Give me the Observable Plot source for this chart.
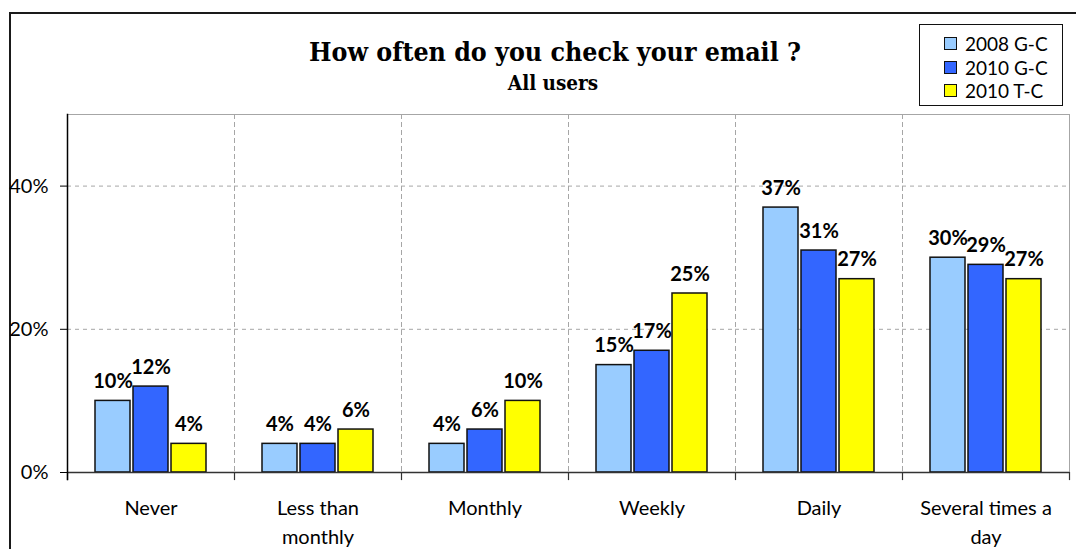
<!DOCTYPE html>
<html>
<head>
<meta charset="utf-8">
<script src="https://cdn.jsdelivr.net/npm/d3@7"></script>
<script src="https://cdn.jsdelivr.net/npm/@observablehq/plot@0.6"></script>
<style>
  html, body { margin: 0; padding: 0; background: #fff; }
  body { width: 1076px; height: 549px; overflow: hidden; position: relative; font-family: Lato, sans-serif; }
  #frame { position: absolute; left: 9px; top: 12px; width: 1200px; height: 700px; border: 2px solid #1a1a1a; box-sizing: border-box; }
  #chart { position: absolute; left: 0; top: 0; }
  #title { position: absolute; left: 0; width: 1110px; top: 39px; text-align: center; font-family: "DejaVu Serif Condensed", "Liberation Serif", serif; font-weight: bold; font-size: 26.5px; line-height: 26px; color: #000; white-space: nowrap; }
  #subtitle { position: absolute; left: 0; width: 1106px; top: 73px; text-align: center; font-family: "DejaVu Serif Condensed", "Liberation Serif", serif; font-weight: bold; font-size: 20.5px; line-height: 20px; color: #000; }
  #legend { position: absolute; left: 919px; top: 24px; width: 144px; height: 82px; border: 1.5px solid #111; box-sizing: border-box; background: #fff; padding-top: 7px; }
  .row { display: flex; align-items: center; height: 23.5px; padding-left: 24px; font-size: 19px; color: #000; }
  .sw { width: 13px; height: 13px; border: 1px solid #111; margin-right: 8px; box-sizing: border-box; }
</style>
</head>
<body>
<div id="frame"></div>
<div id="chart"></div>
<div id="title">How often do you check your email ?</div>
<div id="subtitle">All users</div>
<div id="legend"></div>
<script>
const categories = ["Never", "Less than monthly", "Monthly", "Weekly", "Daily", "Several times a day"];
const categoryLabels = ["Never", "Less than\nmonthly", "Monthly", "Weekly", "Daily", "Several times a\nday"];
const series = ["2008 G-C", "2010 G-C", "2010 T-C"];
const values2008GC = [10, 4, 4, 15, 37, 30];
const values2010GC = [12, 4, 6, 17, 31, 29];
const values2010TC = [4, 6, 10, 25, 27, 27];
const seriesColors = ["#99ccff", "#3366ff", "#ffff00"];
const yTicks = [0, 20, 40];

const seriesValues = [values2008GC, values2010GC, values2010TC];
const data = [];
categories.forEach((c, i) => {
  series.forEach((s, j) => data.push({category: c, series: s, value: seriesValues[j][i]}));
});

const grid = "#a6a6a6";
const chart = Plot.plot({
  width: 1076,
  height: 549,
  marginLeft: 67,
  marginRight: 7,
  marginTop: 114,
  marginBottom: 77,
  style: {background: "transparent", fontFamily: "Lato, sans-serif", fontSize: "20px", color: "#000", overflow: "visible"},
  fx: {domain: categories, padding: 0, axis: null},
  x: {domain: series, paddingInner: 0.077, paddingOuter: 0.69, axis: null},
  y: {domain: [0, 50], axis: null},
  color: {domain: series, range: seriesColors},
  marks: [
    Plot.gridY({ticks: [20, 40], stroke: grid, strokeOpacity: 1, strokeDasharray: "4,4"}),
    Plot.frame({anchor: "left", stroke: grid, strokeDasharray: "4,4"}),
    Plot.ruleY([50], {stroke: grid}),
    Plot.frame({anchor: "right", facetAnchor: "right", stroke: grid}),
    Plot.barY(data, {fx: "category", x: "series", y: "value", fill: "series", stroke: "#111", strokeWidth: 1.5}),
    Plot.text(data, {fx: "category", x: "series", y: "value", text: d => d.value + "%", lineAnchor: "bottom", dy: -13, fontWeight: "bold", fontSize: 20, fill: "#000"}),
    Plot.ruleY([0], {stroke: "#333", strokeWidth: 1.5}),
    Plot.frame({anchor: "left", stroke: "#333", strokeWidth: 1.2, insetTop: 358, insetBottom: -7}),
    Plot.frame({anchor: "right", facetAnchor: "right", stroke: "#333", strokeWidth: 1.2, insetTop: 358, insetBottom: -7}),
    Plot.frame({anchor: "left", facetAnchor: "left", stroke: "#000", strokeWidth: 1.5, insetBottom: -7}),
    Plot.axisY({ticks: yTicks, tickFormat: d => d + "%", tickSize: 7, tickPadding: 12, fontSize: 20, stroke: "#000", label: null}),
    Plot.text(categories, {fx: d => d, text: (d, i) => categoryLabels[i], frameAnchor: "bottom", lineAnchor: "top", dy: 22, lineHeight: 1.45, fontSize: 20, fill: "#000"})
  ]
});
document.getElementById("chart").appendChild(chart);

const legend = document.getElementById("legend");
series.forEach((s, i) => {
  const row = document.createElement("div");
  row.className = "row";
  const sw = document.createElement("div");
  sw.className = "sw";
  sw.style.background = seriesColors[i];
  const label = document.createElement("span");
  label.textContent = s;
  row.appendChild(sw);
  row.appendChild(label);
  legend.appendChild(row);
});
</script>
</body>
</html>
